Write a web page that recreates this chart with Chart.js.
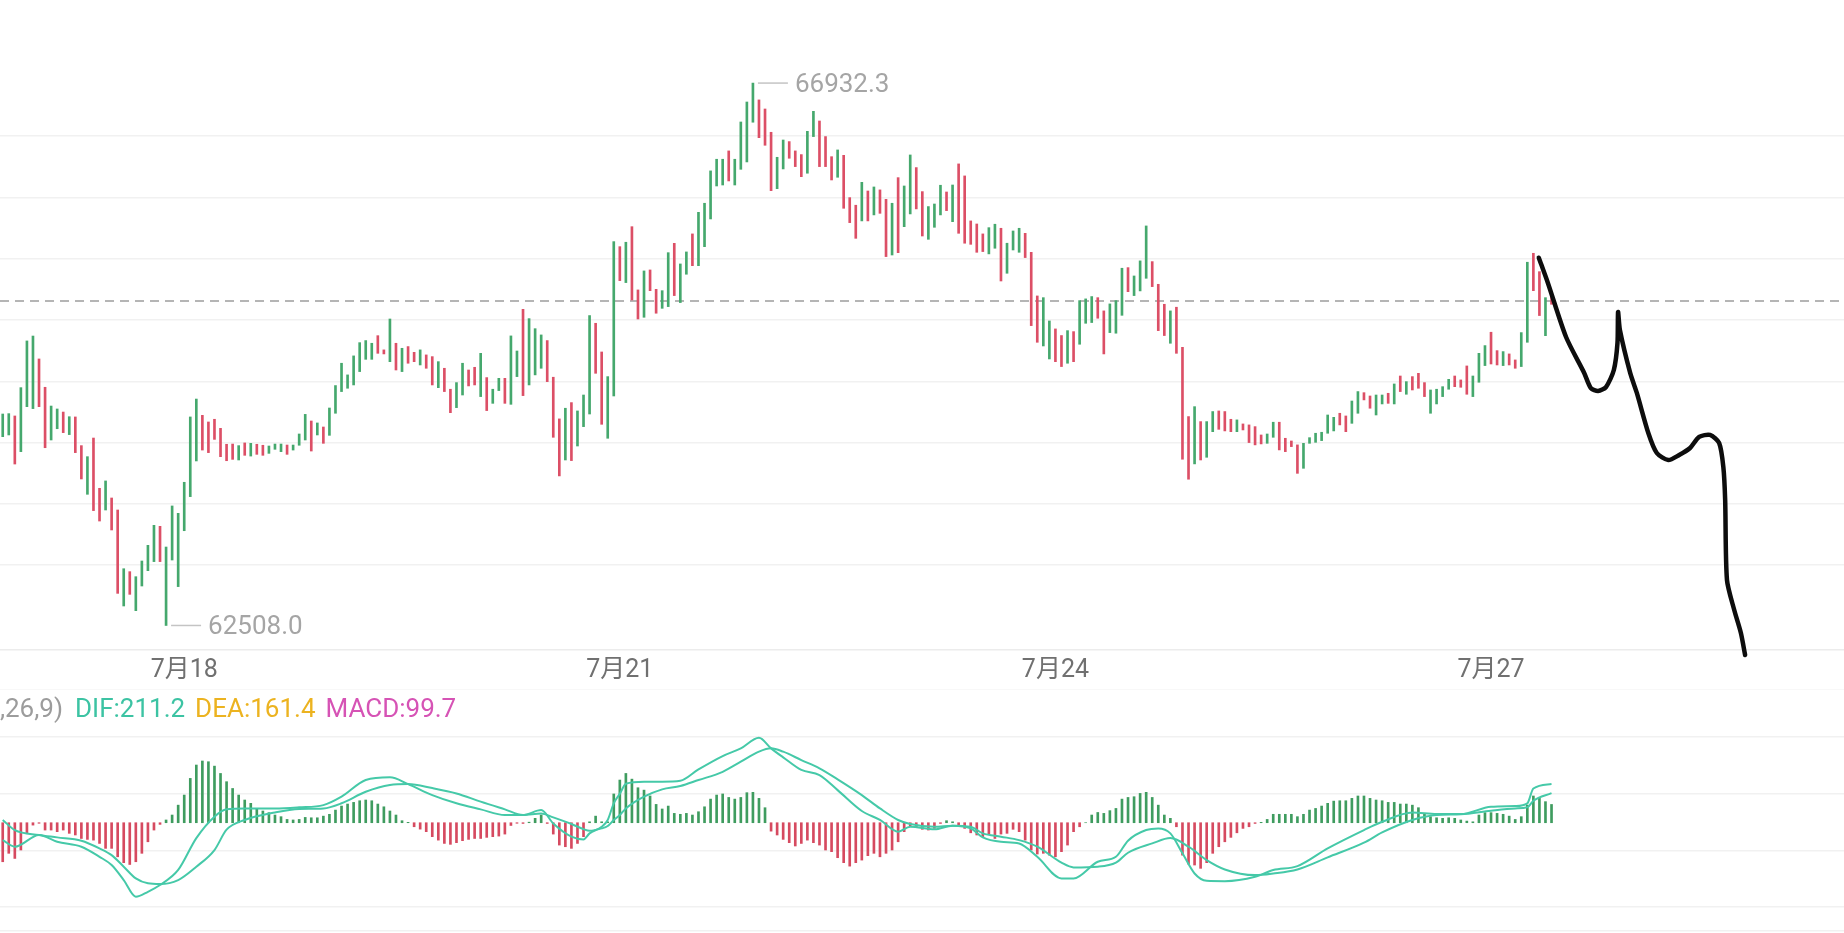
<!DOCTYPE html>
<html>
<head>
<meta charset="utf-8">
<script src="https://cdn.jsdelivr.net/npm/chart.js@4.4.1/dist/chart.umd.min.js"></script>
<style>
  html, body { margin: 0; padding: 0; background: #fff; overflow: hidden; }
  #wrap { position: relative; width: 1844px; height: 933px; }
  #price { position: absolute; left: 0; top: 0; }
  #macd { position: absolute; left: 0; top: 689px; }
</style>
</head>
<body>
<div id="wrap">
  <canvas id="price" width="1844" height="689"></canvas>
  <canvas id="macd" width="1844" height="244"></canvas>
</div>
<script>
// hourly candles (index 0 = first visible hour)
const highs = [
  64233, 64236, 64217, 64448, 64829, 64869, 64682, 64451, 64298, 64274,
  64249, 64211, 64209, 63975, 63885, 64037, 63627, 63687, 63548, 63450,
  62971, 62947, 62906, 63034, 63162, 63325, 63317, 63148, 63483, 63423,
  63676, 64209, 64355, 64222, 64168, 64190, 64116, 63986, 63988, 63975,
  63997, 63994, 63986, 63978, 63972, 63988, 63988, 63980, 63980, 64070,
  64230, 64176, 64160, 64127, 64282, 64465, 64647, 64552, 64707, 64815,
  64832, 64810, 64872, 64756, 65008, 64810, 64769, 64783, 64736, 64756,
  64715, 64701, 64660, 64606, 64435, 64489, 64647, 64592, 64614, 64728,
  64530, 64435, 64524, 64524, 64870, 64747, 65087, 65011, 64929, 64878,
  64832, 64533, 64193, 64280, 64326, 64258, 64388, 65036, 64973, 64739,
  64538, 65639, 65598, 65634, 65761, 65245, 65400, 65408, 65250, 65239,
  65549, 65625, 65457, 65555, 65702, 65878, 65952, 66216, 66311, 66311,
  66379, 66311, 66615, 66778, 66932.3, 66795, 66721, 66531, 66327, 66468,
  66455, 66379, 66349, 66539, 66702, 66623, 66496, 66332, 66387, 66343,
  65998, 65936, 66123, 66052, 66085, 66061, 65984, 65952, 66161, 66093,
  66346, 66243, 66047, 65925, 65946, 66099, 66044, 66101, 66273, 66175,
  65808, 65783, 65702, 65753, 65781, 65748, 65626, 65726, 65748, 65707,
  65552, 65196, 65182, 64992, 64927, 64873, 64913, 64905, 65158, 65172,
  65191, 65182, 65074, 65131, 65158, 65422, 65427, 65359, 65482, 65767,
  65476, 65291, 65128, 65074, 65104, 64777, 64212, 64293, 64171, 64171,
  64253, 64258, 64253, 64190, 64185, 64152, 64144, 64130, 64062, 64070,
  64166, 64166, 64035, 64013, 63981, 63994, 64040, 64076, 64084, 64225,
  64206, 64239, 64217, 64339, 64416, 64407, 64380, 64388, 64388, 64402,
  64478, 64543, 64497, 64538, 64565, 64489, 64429, 64435, 64456, 64516,
  64543, 64511, 64625, 64543, 64728, 64791, 64900, 64750, 64742, 64723,
  64674, 64897, 65471, 65544, 65394, 65182, 65218
];
const lows = [
  64048, 64062, 63825, 63926, 64293, 64277, 64293, 63958, 64021, 64113,
  64081, 64065, 63918, 63703, 63578, 63445, 63360, 63450, 63287, 62770,
  62667, 62762, 62629, 62830, 62955, 63029, 63029, 62508.0, 63042, 62825,
  63281, 63559, 63850, 63939, 63918, 64026, 63885, 63852, 63863, 63858,
  63896, 63890, 63904, 63896, 63912, 63945, 63926, 63904, 63939, 63978,
  64021, 63931, 64062, 63994, 64059, 64239, 64416, 64443, 64470, 64579,
  64679, 64679, 64728, 64723, 64660, 64592, 64579, 64647, 64660, 64633,
  64606, 64470, 64448, 64416, 64244, 64285, 64388, 64462, 64470, 64375,
  64261, 64320, 64424, 64320, 64312, 64538, 64383, 64470, 64552, 64606,
  64497, 64043, 63728, 63858, 63853, 63972, 64130, 64233, 64565, 64149,
  64035, 64380, 65321, 65305, 65163, 65008, 65022, 65239, 65055, 65095,
  65109, 65199, 65142, 65373, 65443, 65443, 65598, 65824, 66093, 66101,
  66134, 66101, 66229, 66289, 66613, 66487, 66425, 66055, 66071, 66232,
  66319, 66251, 66169, 66197, 66496, 66251, 66251, 66142, 66164, 65911,
  65794, 65666, 65808, 65808, 65857, 65870, 65517, 65530, 65549, 65761,
  65865, 65906, 65685, 65658, 65756, 65857, 65892, 65802, 65707, 65626,
  65617, 65552, 65558, 65539, 65585, 65318, 65381, 65571, 65552, 65509,
  64954, 64818, 64788, 64682, 64660, 64620, 64647, 64660, 64802, 64973,
  64979, 65014, 64723, 64897, 64892, 65038, 65231, 65199, 65237, 65340,
  65272, 64913, 64873, 64810, 64728, 63864, 63701, 63826, 63858, 63880,
  64089, 64108, 64095, 64089, 64089, 64103, 64000, 63981, 63989, 63994,
  64043, 63940, 63926, 63967, 63749, 63790, 63994, 64002, 64016, 64076,
  64095, 64144, 64089, 64157, 64239, 64348, 64280, 64225, 64315, 64320,
  64315, 64416, 64394, 64429, 64443, 64375, 64239, 64315, 64375, 64435,
  64456, 64451, 64394, 64375, 64492, 64628, 64641, 64633, 64628, 64633,
  64606, 64620, 64818, 65239, 65036, 64872, 65128
];
// G = closed up, R = closed down
const candleDir =
  "GGRGGGRRGG" + "RGRRGRRGRR" + "GRGGGGRGGG" + "GGGRRRRRRG" + "RGRRGGGRGG" +
  "GRGRGGGGGG" + "GGRRGRGRRG" + "RRGRRGGRRG" + "RGGRGGRGGG" + "RRRGRGGGRR" +
  "GGRGRRGRRG" + "GRGGRGGGGG" + "RGGGGRRRGG" + "RRRGGRRRGR" + "RRGRGRRGRG" +
  "GRRGGGRGRR" + "RRRGGRGGGR" + "RRGGRRGRGG" + "GRRGGGRGGG" + "RRRGRRRGRG" +
  "GRRRGRRRRG" + "GRRRRGGGGG" + "GRRGGRRGGR" + "GRGRRRGGGG" + "RRRGGGRRGR" +
  "RGGRRGR";

const lastPrice = 65155;

const dayTicks = [30, 102, 174, 246];
const dayLabels = ["7月18", "7月21", "7月24", "7月27"];
const priceGrid = [63000, 63500, 64000, 64500, 65000, 65500, 66000, 66500];

// MACD(12,26,9) histogram, one bar per candle
const macdHist = [
  -213, -167, -195, -149, -58, -13, -3, -40, -40, -49,
  -40, -58, -67, -86, -91, -95, -113, -140, -140, -186,
  -218, -228, -213, -167, -104, -40, -9, 15, 42, 96,
  151, 242, 315, 337, 333, 309, 269, 224, 187, 151,
  124, 106, 78, 64, 55, 42, 33, 18, 15, 18,
  29, 27, 27, 36, 46, 69, 91, 102, 111, 120,
  124, 120, 102, 87, 64, 42, 11, 2, -22, -35,
  -49, -76, -95, -113, -118, -109, -98, -91, -86, -86,
  -80, -76, -73, -62, -15, -3, -4, 3, 24, 42,
  -4, -62, -122, -131, -140, -113, -76, 5, 36, 5,
  5, 157, 233, 269, 238, 191, 178, 146, 100, 75,
  91, 51, 46, 51, 42, 60, 87, 129, 151, 157,
  138, 129, 138, 164, 166, 133, 82, -46, -67, -91,
  -109, -127, -113, -95, -109, -122, -149, -158, -191, -218,
  -237, -218, -204, -180, -167, -186, -167, -149, -104, -49,
  -18, -25, -36, -40, -31, -4, 11, 5, -18, -31,
  -55, -67, -76, -62, -86, -62, -58, -36, -49, -95,
  -149, -171, -167, -177, -186, -158, -122, -49, -22, 0,
  42, 56, 51, 66, 78, 129, 138, 142, 160, 166,
  138, 96, 42, 24, -22, -177, -226, -231, -249, -218,
  -167, -131, -104, -80, -55, -31, -22, -4, 2, 18,
  46, 46, 46, 46, 33, 46, 69, 78, 91, 106,
  118, 120, 120, 133, 146, 146, 133, 124, 120, 111,
  111, 102, 102, 96, 82, 47, 33, 27, 24, 27,
  24, 15, 9, 5, 42, 55, 55, 51, 46, 36,
  18, 33, 96, 146, 133, 115, 99.7
];

// DIF / DEA read at these candle indexes
const difIdx = [0, 2, 6, 9, 13, 16, 18, 20, 22, 24, 26, 29, 32, 35, 37, 40, 45, 49, 53, 56,
  60, 64, 67, 71, 75, 79, 83, 86, 89, 91, 94, 96, 97, 99, 100, 101, 102, 103, 106, 109,
  112, 115, 119, 122, 125, 127, 129, 132, 135, 138, 142, 145, 148, 150, 154, 157, 160, 162, 165, 168,
  171, 175, 177, 181, 184, 186, 189, 191, 193, 195, 197, 199, 202, 207, 210, 214, 219, 225, 228, 233,
  237, 241, 246, 250, 252, 253, 256];
const difVals = [-95, -131, -67, -104, -131, -186, -231, -313, -404, -377, -340, -258, -84, 33, 73, 78, 78, 84, 96, 142,
  233, 248, 211, 151, 106, 73, 42, 42, 69, -4, -76, -91, -58, -22, 15, 106, 158, 213, 224, 224,
  229, 291, 364, 406, 464, 406, 357, 288, 260, 178, 64, 15, -49, -22, -36, -16, -31, -80, -104, -113,
  -186, -304, -304, -213, -186, -98, -40, -31, -58, -167, -277, -317, -319, -295, -258, -237, -140, -40, 5, 56,
  47, 47, 87, 91, 106, 187, 211.2];
const deaIdx = [0, 2, 6, 9, 13, 16, 18, 20, 22, 24, 26, 29, 32, 35, 37, 40, 45, 49, 53, 56,
  60, 64, 67, 71, 75, 79, 83, 86, 89, 91, 94, 96, 97, 99, 100, 101, 102, 103, 106, 109,
  112, 115, 119, 122, 125, 127, 129, 132, 135, 138, 142, 145, 148, 150, 154, 157, 160, 162, 165, 168,
  171, 175, 177, 181, 184, 186, 190, 193, 196, 199, 202, 207, 210, 214, 219, 225, 228, 233, 237, 241,
  246, 250, 252, 253, 256];
const deaVals = [15, -40, -67, -80, -98, -140, -177, -240, -304, -331, -335, -313, -240, -149, -38, 15, 56, 75, 78, 106,
  169, 206, 211, 189, 160, 115, 73, 42, 51, 29, -7, -35, -44, -31, -18, 15, 42, 78, 142, 182,
  200, 233, 278, 333, 388, 406, 388, 342, 297, 237, 151, 78, 15, -7, -22, -16, -22, -58, -76, -95,
  -131, -218, -244, -240, -218, -164, -113, -84, -131, -204, -255, -286, -277, -255, -189, -109, -53, 15, 42, 46,
  66, 78, 84, 120, 161.4];

// hand-drawn forecast stroke (x in candle index, y in price)
const sketchX = [253.9, 255.4, 258.4, 261.4, 262.5, 263.7, 265.0, 266.3, 266.9, 267.0, 267.3, 269.0,
  270.1, 272.0, 273.4, 275.3, 277.1, 278.9, 280.4, 282.2, 283.7, 284.4, 284.7, 285.0, 286.2, 287.3, 288.0];
const sketchY = [65508, 65302, 64861, 64568, 64445, 64421, 64453, 64592, 64812, 65065, 64918, 64568,
  64405, 64078, 63915, 63858, 63899, 63956, 64046, 64062, 63997, 63801, 63532, 62879, 62634, 62447, 62267];

const upColor = "#45a86d", downColor = "#dc4f66";
const lineColor = "#45c9a8";
const fontFamily = "Roboto, 'Noto Sans CJK SC', sans-serif";

const xMin = -0.45, xMax = xMin + 1844 / 6.05;

const candles = highs.map((h, i) => ({ x: i, y: [lows[i], h] }));
const candleColors = highs.map((h, i) => candleDir[i] === "G" ? upColor : downColor);

const priceMarks = {
  id: "priceMarks",
  beforeDatasetsDraw(chart) {
    const ctx = chart.ctx, y = chart.scales.y.getPixelForValue(lastPrice);
    ctx.save();
    ctx.strokeStyle = "#b5b5b5";
    ctx.lineWidth = 2;
    ctx.setLineDash([9, 6]);
    ctx.beginPath();
    ctx.moveTo(0, y);
    ctx.lineTo(chart.width, y);
    ctx.stroke();
    ctx.restore();
  },
  afterDatasetsDraw(chart) {
    const ctx = chart.ctx, xs = chart.scales.x, ys = chart.scales.y;
    const top = Math.max(...highs), bottom = Math.min(...lows);
    const marks = [[highs.indexOf(top), top], [lows.indexOf(bottom), bottom]];
    ctx.save();
    ctx.strokeStyle = "#c4c4c4";
    ctx.fillStyle = "#a5a5a5";
    ctx.lineWidth = 1.5;
    ctx.font = "26px " + fontFamily;
    ctx.textBaseline = "middle";
    marks.forEach(([i, v]) => {
      const x = xs.getPixelForValue(i), y = ys.getPixelForValue(v);
      ctx.beginPath();
      ctx.moveTo(x + 5, y);
      ctx.lineTo(x + 35, y);
      ctx.stroke();
      ctx.fillText(v.toFixed(1), x + 42, y + 2);
    });
    ctx.restore();
  }
};

new Chart(document.getElementById("price"), {
  type: "bar",
  data: {
    datasets: [
      {
        type: "line",
        data: sketchX.map((x, i) => ({ x, y: sketchY[i] })),
        borderColor: "#0d0d0d",
        borderWidth: 4.5,
        pointRadius: 0,
        tension: 0.25,
        borderCapStyle: "round",
        borderJoinStyle: "round",
        clip: false,
        order: 0
      },
      {
        data: candles,
        backgroundColor: candleColors,
        barThickness: 2,
        order: 1
      }
    ]
  },
  options: {
    responsive: false,
    animation: false,
    events: [],
    layout: { padding: 0 },
    plugins: { legend: { display: false }, tooltip: { enabled: false } },
    scales: {
      x: {
        type: "linear",
        offset: false,
        min: xMin,
        max: xMax,
        grid: { display: false, drawTicks: false },
        border: { display: true, color: "#ececec", width: 1.5 },
        afterBuildTicks: s => { s.ticks = dayTicks.map(v => ({ value: v })); },
        afterFit: s => { s.height = 39; },
        ticks: {
          autoSkip: false,
          maxRotation: 0,
          padding: 6,
          color: "#707070",
          font: { family: fontFamily, size: 25 },
          callback: v => dayLabels[dayTicks.indexOf(v)]
        }
      },
      y: {
        min: 62308,
        max: 67610,
        grid: { color: "#f1f1f1", lineWidth: 1.5, drawTicks: false },
        border: { display: false },
        ticks: { display: false },
        afterBuildTicks: s => { s.ticks = priceGrid.map(v => ({ value: v })); }
      }
    }
  },
  plugins: [priceMarks]
});

// MACD panel
const macdMin = -602, macdMax = 730;
const macdGrid = [-591, -460, -154, 157, 468, 730];

const macdLegend = {
  id: "macdLegend",
  afterDraw(chart) {
    const ctx = chart.ctx;
    const parts = [
      ["DIF:" + difVals[difVals.length - 1].toFixed(1), "#3cc3a3"],
      ["DEA:" + deaVals[deaVals.length - 1].toFixed(1), "#ecb320"],
      ["MACD:" + macdHist[macdHist.length - 1].toFixed(1), "#d653b5"]
    ];
    ctx.save();
    ctx.font = "26px " + fontFamily;
    ctx.textBaseline = "middle";
    ctx.fillStyle = "#9c9c9c";
    ctx.textAlign = "right";
    ctx.fillText("MACD(12,26,9)", 63, 21);
    ctx.textAlign = "left";
    let x = 75;
    parts.forEach(([t, c]) => {
      ctx.fillStyle = c;
      ctx.fillText(t, x, 21);
      x += ctx.measureText(t).width + 10;
    });
    ctx.restore();
  }
};

new Chart(document.getElementById("macd"), {
  type: "bar",
  data: {
    datasets: [
      {
        type: "line",
        data: difIdx.map((x, i) => ({ x, y: difVals[i] })),
        borderColor: lineColor,
        borderWidth: 2,
        pointRadius: 0,
        cubicInterpolationMode: "monotone",
        order: 0
      },
      {
        type: "line",
        data: deaIdx.map((x, i) => ({ x, y: deaVals[i] })),
        borderColor: lineColor,
        borderWidth: 2,
        pointRadius: 0,
        cubicInterpolationMode: "monotone",
        order: 0
      },
      {
        data: macdHist.map((v, i) => ({ x: i, y: v })),
        backgroundColor: macdHist.map(v => v >= 0 ? "#3f9c5f" : "#d64a60"),
        barThickness: 2,
        order: 1
      }
    ]
  },
  options: {
    responsive: false,
    animation: false,
    events: [],
    layout: { padding: 0 },
    plugins: { legend: { display: false }, tooltip: { enabled: false } },
    scales: {
      x: { type: "linear", offset: false, min: xMin, max: xMax, display: false },
      y: {
        min: macdMin,
        max: macdMax,
        grid: { color: "#f1f1f1", lineWidth: 1.5, drawTicks: false },
        border: { display: false },
        ticks: { display: false },
        afterBuildTicks: s => { s.ticks = macdGrid.map(v => ({ value: v })); }
      }
    }
  },
  plugins: [macdLegend]
});
</script>
</body>
</html>
